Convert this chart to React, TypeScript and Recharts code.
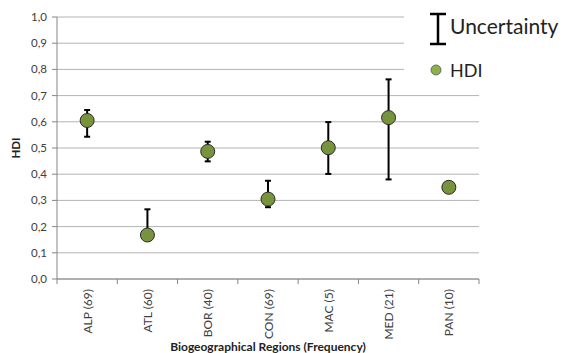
import React from 'react';
import { ComposedChart, Scatter, ErrorBar, XAxis, YAxis, CartesianGrid } from 'recharts';

const regions = ['ALP (69)', 'ATL (60)', 'BOR (40)', 'CON (69)', 'MAC (5)', 'MED (21)', 'PAN (10)'];
const hdi = [0.605, 0.168, 0.487, 0.305, 0.501, 0.616, 0.35];
// lower / upper distance of the uncertainty bar from the HDI value
const errLow = [0.062, 0, 0.038, 0.031, 0.1, 0.236, 0];
const errHigh = [0.04, 0.098, 0.037, 0.07, 0.098, 0.146, 0];
const yTicks = [0, 0.1, 0.2, 0.3, 0.4, 0.5, 0.6, 0.7, 0.8, 0.9, 1];

const data = regions.map((name, i) => ({
  name,
  hdi: hdi[i],
  err: [errLow[i], errHigh[i]],
}));

const FONT = 'Lato, "Open Sans", sans-serif';
const PLOT_W = 422;
const BAND = PLOT_W / regions.length;

function RegionTick(props: any) {
  const { x, y, payload, index } = props;
  const left = x - BAND / 2;
  return (
    <g>
      <line x1={left} y1={y} x2={left} y2={y + 5} stroke="#868686" />
      {index === regions.length - 1 && (
        <line x1={left + BAND} y1={y} x2={left + BAND} y2={y + 5} stroke="#868686" />
      )}
      <text
        x={x}
        y={y + 10}
        transform={`rotate(-90, ${x}, ${y + 10})`}
        textAnchor="end"
        dominantBaseline="central"
        fontSize={12}
        fill="#404040"
        fontFamily={FONT}
      >
        {payload.value}
      </text>
    </g>
  );
}

function Dot(props: any) {
  const { cx, cy } = props;
  return <circle cx={cx} cy={cy} r={7} fill="#77933c" stroke="#2b2b2b" strokeWidth={1} />;
}

function LegendBox() {
  return (
    <div
      style={{
        position: 'absolute',
        left: 404,
        top: 8,
        width: 161,
        height: 78,
        fontFamily: FONT,
        color: '#222',
        background: '#fff',
      }}
    >
      <svg width={30} height={36} style={{ position: 'absolute', left: 20, top: 3 }}>
        <line x1={14} y1={3} x2={14} y2={33} stroke="#000" strokeWidth={2.5} />
        <line x1={6} y1={3} x2={22} y2={3} stroke="#000" strokeWidth={2.5} />
        <line x1={6} y1={33} x2={22} y2={33} stroke="#000" strokeWidth={2.5} />
      </svg>
      <span style={{ position: 'absolute', left: 46, top: 5, fontSize: 21, lineHeight: '26px' }}>Uncertainty</span>
      <svg width={14} height={14} style={{ position: 'absolute', left: 25, top: 55 }}>
        <circle cx={7} cy={7} r={5} fill="#8db04a" stroke="#555" strokeWidth={0.8} />
      </svg>
      <span style={{ position: 'absolute', left: 46, top: 50, fontSize: 18, lineHeight: '24px' }}>HDI</span>
    </div>
  );
}

export default function App() {
  return (
    <div style={{ position: 'absolute', left: 0, top: 0, width: 565, height: 353, background: '#fff' }}>
      <ComposedChart width={565} height={353} data={data} margin={{ top: 17, right: 86, bottom: 0, left: 0 }}>
        <CartesianGrid vertical={false} stroke="#b3b3b3" />
        <XAxis
          dataKey="name"
          type="category"
          scale="band"
          height={74}
          interval={0}
          axisLine={{ stroke: '#868686' }}
          tickLine={false}
          tickSize={0}
          tickMargin={0}
          tick={<RegionTick />}
          label={{
            value: 'Biogeographical Regions (Frequency)',
            position: 'insideBottom',
            offset: 2,
            style: { fontSize: 12, fontWeight: 700, fill: '#222', fontFamily: FONT },
          }}
        />
        <YAxis
          type="number"
          domain={[0, 1]}
          ticks={yTicks}
          interval={0}
          width={57}
          axisLine={{ stroke: '#868686' }}
          tickLine={{ stroke: '#868686' }}
          tickSize={5}
          tickMargin={5}
          tickFormatter={(v: number) => v.toFixed(1).replace('.', ',')}
          tick={{ fontSize: 11.5, fill: '#404040', fontFamily: FONT }}
          label={{
            value: 'HDI',
            angle: -90,
            position: 'insideLeft',
            offset: 16,
            style: { fontSize: 11.5, fontWeight: 700, fill: '#222', fontFamily: FONT, textAnchor: 'middle' },
          }}
        />
        <Scatter dataKey="hdi" shape={<Dot />} isAnimationActive={false}>
          <ErrorBar dataKey="err" direction="y" width={3} stroke="#000" strokeWidth={2} />
        </Scatter>
      </ComposedChart>
      <LegendBox />
    </div>
  );
}
